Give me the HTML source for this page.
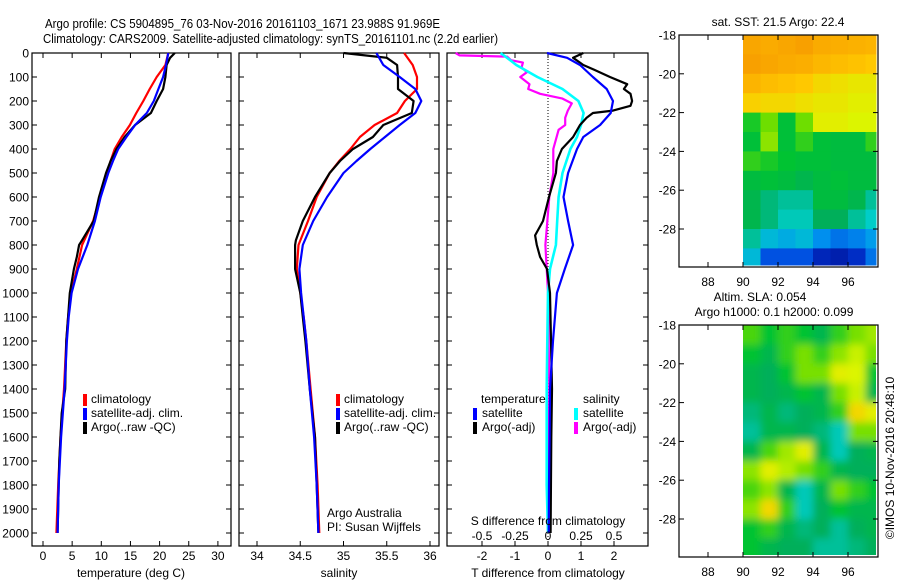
<!DOCTYPE html>
<html><head><meta charset="utf-8"><style>
body{margin:0;background:#fff}
svg{display:block;font-family:"Liberation Sans",sans-serif}
text{fill:#000}
</style></head><body>
<svg id="c" width="900" height="580" viewBox="0 0 900 580">
<defs>
<filter id="blur" x="-5%" y="-5%" width="110%" height="110%"><feGaussianBlur stdDeviation="4"/></filter>
<clipPath id="slaclip"><rect x="743" y="325" width="133" height="230"/></clipPath>
</defs>
<rect width="900" height="580" fill="#fff"/>
<text x="45" y="28" font-size="13" textLength="395" lengthAdjust="spacingAndGlyphs">Argo profile: CS 5904895_76 03-Nov-2016 20161103_1671 23.988S 91.969E</text>
<text x="43" y="43" font-size="13" textLength="455" lengthAdjust="spacingAndGlyphs">Climatology: CARS2009. Satellite-adjusted climatology: synTS_20161101.nc (2.2d earlier)</text>
<g id="g"></g>
</svg>
<script>
// ---------- data ----------
const depthTop=[0,50,100,150,200,250,300,350,400,450,500,600,700,800,900,1000,1100,1200,1400,1600,1800,2000];
const tempClim=[21.5,21.0,19.5,18.3,17.2,16.0,14.9,13.5,12.3,11.6,11.0,9.8,8.6,6.7,5.8,4.8,4.3,4.0,3.6,3.0,2.6,2.3];
const tempSat=[21.5,21.1,20.6,19.8,19.0,17.8,15.8,14.3,12.9,12.0,11.2,9.9,8.9,7.6,6.0,4.9,4.4,4.1,3.7,3.1,2.7,2.5];
const argoDepth=[0,20,50,100,150,200,250,300,350,400,450,500,600,700,780,800,850,900,1000,1100,1200,1400,1500,1600,1700,1800,2000];
const tempArgo=[22.6,21.8,21.2,21.0,20.6,19.5,18.5,15.8,14.0,12.6,11.6,10.8,9.6,8.7,6.7,6.2,5.8,5.3,4.6,4.3,4.0,3.8,3.2,3.0,2.8,2.7,2.5];
const salClim=[35.70,35.80,35.85,35.85,35.71,35.62,35.36,35.19,35.08,34.95,34.84,34.69,34.59,34.48,34.46,34.50,34.54,34.57,34.62,34.67,34.70,34.72];
const salSat=[35.38,35.46,35.65,35.83,35.90,35.83,35.65,35.48,35.31,35.15,35.00,34.81,34.65,34.53,34.49,34.51,34.54,34.57,34.61,34.66,34.69,34.71];
const salArgo=[35.00,35.50,35.62,35.63,35.63,35.81,35.79,35.46,35.34,35.11,34.96,34.84,34.67,34.53,34.45,34.44,34.44,34.44,34.50,34.53,34.56,34.61,34.64,34.67,34.68,34.69,34.71];
const diffDepth=[0,20,50,100,150,200,250,300,350,400,500,600,700,800,900,1000,1200,1400,1600,1800,2000];
const dTSat=[-0.03,0.58,0.97,1.36,1.78,1.97,1.90,1.58,1.07,0.88,0.61,0.47,0.61,0.76,0.51,0.27,0.15,0.06,0.05,0.03,0.02];
const dSSat=[-0.36,-0.31,-0.24,-0.08,0.11,0.23,0.27,0.25,0.22,0.17,0.11,0.08,0.07,0.06,0.015,0.0,-0.005,-0.01,-0.01,-0.01,0.0];
const dTDepth=[0,20,40,50,70,100,130,150,170,200,220,240,250,270,300,350,400,450,500,600,700,760,800,850,900,1000,1400,1600,2000];
const dTArgo=[1.07,0.76,0.97,1.07,1.4,1.88,2.4,2.3,2.5,2.55,2.5,1.97,1.36,1.17,0.97,0.76,0.42,0.27,0.24,0.03,-0.15,-0.39,-0.34,-0.24,-0.03,0.06,0.12,0.1,0.08];
const dSDepth=[0,10,15,30,40,60,80,100,130,150,170,190,210,240,270,300,320,400,500,600,800,900,1000,1400,2000];
const dSArgo=[-0.70,-0.67,-0.31,-0.28,-0.19,-0.20,-0.16,-0.21,-0.14,-0.15,-0.06,0.11,0.18,0.15,0.13,0.13,0.08,0.04,0.04,0.01,-0.02,-0.01,0.0,0.01,0.0];
const depthTicks=[0,100,200,300,400,500,600,700,800,900,1000,1100,1200,1300,1400,1500,1600,1700,1800,1900,2000];
const tempTicks=[0,5,10,15,20,25,30];
const salTicks=[34,34.5,35,35.5,36];
const salTickLabels=["34","34.5","35","35.5","36"];
const dTTicks=[-2,-1,0,1,2];
const dSTicks=[-0.5,-0.25,0,0.25,0.5];
const dSTickLabels=["-0.5","-0.25","0","0.25","0.5"];
const latTicks=[-18,-20,-22,-24,-26,-28];
const lonTicks=[88,90,92,94,96];
// map grids: rows lat -18..-30 (1 deg), cols lon 90..98 (1 deg); normalized colour value 0..1
const sstGrid=[
[0.90,0.88,0.90,0.92,0.88,0.87,0.86,0.85],
[0.92,0.90,0.88,0.87,0.84,0.82,0.80,0.78],
[0.85,0.82,0.80,0.78,0.74,0.72,0.70,0.70],
[0.76,0.74,0.74,0.72,0.70,0.70,0.68,0.68],
[0.48,0.55,0.45,0.55,0.68,0.68,0.66,0.66],
[0.45,0.58,0.45,0.50,0.45,0.44,0.44,0.50],
[0.50,0.48,0.46,0.45,0.45,0.44,0.44,0.44],
[0.44,0.45,0.44,0.42,0.44,0.45,0.44,0.44],
[0.42,0.38,0.36,0.36,0.44,0.44,0.42,0.36],
[0.42,0.38,0.34,0.34,0.40,0.40,0.36,0.33],
[0.36,0.30,0.28,0.30,0.24,0.20,0.22,0.26],
[0.30,0.15,0.15,0.15,0.06,0.04,0.08,0.20]];
const slaGrid=[
[0.52,0.46,0.50,0.46,0.42,0.50,0.56,0.60],
[0.46,0.42,0.50,0.56,0.50,0.58,0.64,0.56],
[0.42,0.40,0.46,0.56,0.56,0.68,0.66,0.46],
[0.42,0.40,0.42,0.46,0.42,0.56,0.64,0.42],
[0.38,0.42,0.38,0.40,0.42,0.50,0.74,0.68],
[0.36,0.42,0.42,0.40,0.38,0.34,0.56,0.56],
[0.42,0.52,0.60,0.68,0.42,0.34,0.40,0.42],
[0.58,0.68,0.62,0.56,0.50,0.42,0.40,0.40],
[0.52,0.58,0.42,0.34,0.42,0.56,0.50,0.46],
[0.58,0.74,0.50,0.34,0.40,0.46,0.42,0.42],
[0.46,0.50,0.42,0.38,0.40,0.36,0.40,0.42],
[0.46,0.42,0.40,0.40,0.36,0.36,0.38,0.40]];

// ---------- helpers ----------
const NS="http://www.w3.org/2000/svg";
const G=document.getElementById('g');
function mk(tag,at,parent){const e=document.createElementNS(NS,tag);for(const k in at)e.setAttribute(k,at[k]);(parent||G).appendChild(e);return e;}
function txt(x,y,s,size,anchor,name){const t=mk('text',{x:x,y:y,'font-size':size,'text-anchor':anchor||'start'});t.textContent=s;


return t;}
const Y0=53,YS=0.24;
function yD(d){return Y0+d*YS;}
const BOT=546;
function panel(x0,x1,name){const r=mk('rect',{x:x0,y:Y0,width:x1-x0,height:BOT-Y0,fill:'none',stroke:'#000','stroke-width':1.2});


for(const d of depthTicks){const y=yD(d);mk('line',{x1:x0,y1:y,x2:x0+5,y2:y,stroke:'#000'});mk('line',{x1:x1,y1:y,x2:x1-5,y2:y,stroke:'#000'});}}
function xticks(x0,ticks,fx){for(const v of ticks){const x=fx(v);mk('line',{x1:x,y1:BOT,x2:x,y2:BOT-5,stroke:'#000'});mk('line',{x1:x,y1:Y0,x2:x,y2:Y0+5,stroke:'#000'});}}
function line(xs,ds,fx,color,name,w){let p='';for(let i=0;i<xs.length;i++)p+=(i?'L':'M')+fx(xs[i]).toFixed(1)+','+yD(ds[i]).toFixed(1);
const e=mk('path',{d:p,fill:'none',stroke:color,'stroke-width':w||2.2,'stroke-linejoin':'round'});

}
function legBar(x,y,color){mk('rect',{x:x,y:y-10,width:4,height:12,fill:color});}

// ---------- panel 1: temperature ----------
const fT=v=>43+5.83*v;
panel(32,231,'temperature-panel');
xticks(32,tempTicks,fT);
for(const d of depthTicks)txt(29,yD(d)+4.5,String(d),12,'end','depth-tick-label');
for(const v of tempTicks)txt(fT(v),560,String(v),12,'middle','temperature-tick-label');
txt(131,577,'temperature (deg C)',12,'middle','temperature-axis-title');
line(tempClim,depthTop,fT,'#f00','temperature-climatology-line');
line(tempArgo,argoDepth,fT,'#000','temperature-argo-line');
line(tempSat,depthTop,fT,'#00f','temperature-satellite-line');
legBar(83,404,'#f00');txt(91,403,'climatology',12,'start','legend-climatology');
legBar(83,418,'#00f');txt(91,417,'satellite-adj. clim.',12,'start','legend-satellite');
legBar(83,432,'#000');txt(91,431,'Argo(..raw -QC)',12,'start','legend-argo');

// ---------- panel 2: salinity ----------
const fS=v=>257+86.5*(v-34);
panel(239,439,'salinity-panel');
xticks(239,salTicks,fS);
salTicks.forEach((v,i)=>txt(fS(v),560,salTickLabels[i],12,'middle','salinity-tick-label'));
txt(339,577,'salinity',12,'middle','salinity-axis-title');
line(salClim,depthTop,fS,'#f00','salinity-climatology-line');
line(salArgo,argoDepth,fS,'#000','salinity-argo-line');
line(salSat,depthTop,fS,'#00f','salinity-satellite-line');
legBar(336,404,'#f00');txt(344,403,'climatology',12,'start','legend-climatology-2');
legBar(336,418,'#00f');txt(344,417,'satellite-adj. clim.',12,'start','legend-satellite-2');
legBar(336,432,'#000');txt(344,431,'Argo(..raw -QC)',12,'start','legend-argo-2');
txt(327,517,'Argo Australia',12,'start','credit-argo-australia');
txt(327,531,'PI: Susan Wijffels',12,'start','credit-pi');

// ---------- panel 3: differences ----------
const fdT=v=>548+33*v, fdS=v=>548+132*v;
mk('line',{x1:548,y1:Y0,x2:548,y2:BOT,stroke:'#000','stroke-dasharray':'1,2'});
panel(447,648,'difference-panel');
for(const v of dTTicks){const x=fdT(v);mk('line',{x1:x,y1:BOT,x2:x,y2:BOT-5,stroke:'#000'});}
for(const v of dSTicks){const x=fdS(v);mk('line',{x1:x,y1:Y0,x2:x,y2:Y0+5,stroke:'#000'});}
line(dSArgo,dSDepth,fdS,'#f0f','salinity-diff-argo-line');
line(dSSat,diffDepth,fdS,'#0ff','salinity-diff-satellite-line',2.6);
line(dTArgo,dTDepth,fdT,'#000','temperature-diff-argo-line');
line(dTSat,diffDepth,fdT,'#00f','temperature-diff-satellite-line');
txt(481,403,'temperature',12,'start','legend-temperature-heading');
txt(583,403,'salinity',12,'start','legend-salinity-heading');
legBar(473,418,'#00f');txt(482,417,'satellite',12,'start','legend-t-satellite');
legBar(473,432,'#000');txt(482,431,'Argo(-adj)',12,'start','legend-t-argo');
legBar(574,418,'#0ff');txt(583,417,'satellite',12,'start','legend-s-satellite');
legBar(574,432,'#f0f');txt(583,431,'Argo(-adj)',12,'start','legend-s-argo');
txt(548,525,'S difference from climatology',12,'middle','s-diff-axis-title');
dSTicks.forEach((v,i)=>txt(fdS(v),540,dSTickLabels[i],12,'middle','s-diff-tick-label'));
for(const v of dTTicks)txt(fdT(v),560,String(v),12,'middle','t-diff-tick-label');
txt(548,577,'T difference from climatology',12,'middle','t-diff-axis-title');

// ---------- maps ----------
const mx=v=>708+17.5*(v-88);
function cmap(v){const s=[[0,[0,16,150]],[0.12,[0,60,220]],[0.25,[0,150,240]],[0.33,[0,205,200]],[0.40,[0,175,90]],[0.46,[0,195,50]],[0.55,[110,222,0]],[0.66,[220,245,0]],[0.78,[255,200,0]],[0.92,[248,160,0]],[1,[240,120,0]]];
for(let i=1;i<s.length;i++)if(v<=s[i][0]){const t=(v-s[i-1][0])/(s[i][0]-s[i-1][0]);const a=s[i-1][1],b=s[i][1];return 'rgb('+a.map((c,j)=>Math.round(c+(b[j]-c)*t)).join(',')+')';}return 'rgb(240,120,0)';}
function map(top,grid,name,smooth){const my=v=>top+19.4*(-18-v);
 const box={x:679,w:199,h:232};
 let grp=G;
 if(smooth){const outer=mk('g',{'clip-path':'url(#slaclip)'});grp=mk('g',{filter:'url(#blur)'},outer);}
 grid.forEach((row,r)=>row.forEach((v,c)=>{const lon=90+c,lat=-18-r;const x0=mx(lon),x1=Math.min(mx(lon+1),876);const y0=my(lat),y1=Math.min(my(lat-1),top+230);
  let ex0=x0,ex1=x1,ey0=y0,ey1=y1;
  if(smooth){if(c==0)ex0-=10;if(c==row.length-1)ex1+=10;if(r==0)ey0-=10;if(r==grid.length-1)ey1+=10;}
  const e=mk('rect',{x:ex0,y:ey0,width:ex1-ex0+0.5,height:ey1-ey0+0.5,fill:cmap(v)},grp);
  
  }));
 const r=mk('rect',{x:box.x,y:top,width:box.w,height:box.h,fill:'none',stroke:'#000','stroke-width':1.2});
 
 
 for(const v of latTicks){const y=my(v);mk('line',{x1:679,y1:y,x2:684,y2:y,stroke:'#000'});mk('line',{x1:878,y1:y,x2:873,y2:y,stroke:'#000'});txt(676,y+4.5,String(v),12,'end','map-lat-tick-label');}
 for(const v of lonTicks){const x=mx(v);mk('line',{x1:x,y1:top+232,x2:x,y2:top+227,stroke:'#000'});mk('line',{x1:x,y1:top,x2:x,y2:top+5,stroke:'#000'});txt(x,top+251,String(v),12,'middle','map-lon-tick-label');}
}
map(35,sstGrid,'sst-map',false);
map(325,slaGrid,'sla-map',true);
txt(778,26,'sat. SST: 21.5 Argo: 22.4',12,'middle','sst-map-title');
txt(760,301,'Altim. SLA: 0.054',12,'middle','sla-map-title');
txt(774,316,'Argo h1000: 0.1 h2000: 0.099',12,'middle','sla-map-subtitle');
const cr=txt(0,0,'©IMOS 10-Nov-2016 20:48:10',12,'middle','copyright-timestamp');
cr.setAttribute('transform','translate(894,458) rotate(-90)');
</script>
</body></html>
